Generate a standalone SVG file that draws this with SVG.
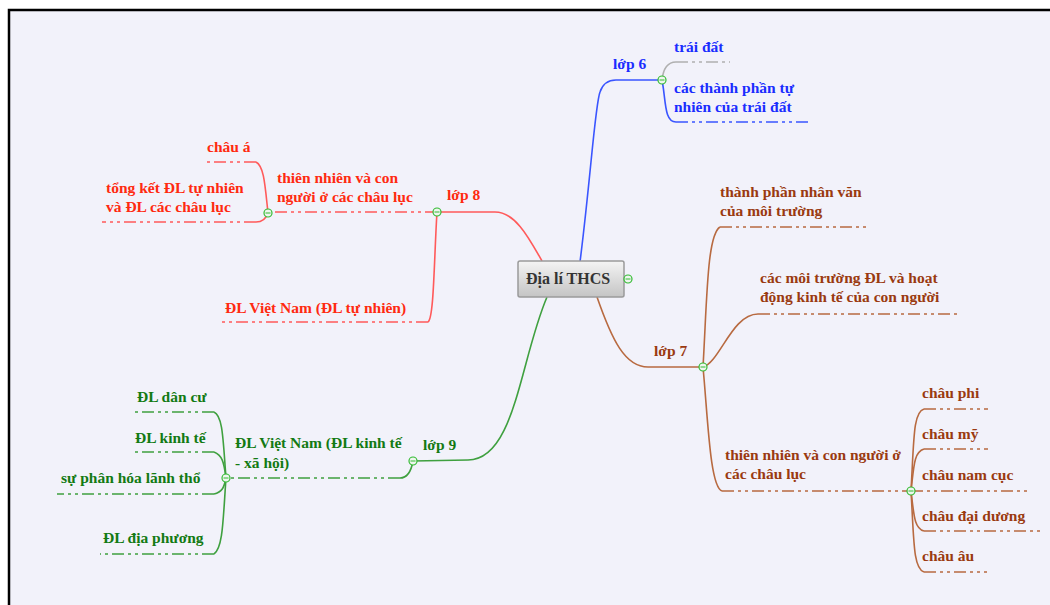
<svg xmlns="http://www.w3.org/2000/svg" width="1050" height="605" viewBox="0 0 1050 605">
<defs>
<linearGradient id="gNode" x1="0" y1="0" x2="0" y2="1">
<stop offset="0" stop-color="#f4f4f4"/>
<stop offset="1" stop-color="#c4c4c4"/>
</linearGradient>
</defs>
<style>
text{font-family:"Liberation Serif","DejaVu Serif",serif;font-weight:bold;font-size:15.5px}
.b{fill:#1a2dff}.r{fill:#ff2a10}.br{fill:#9a3a10}.g{fill:#137a13}
.c{fill:none;stroke-width:1.6}
.d{fill:none;stroke-width:1.6;stroke-dasharray:12 4 3 4 3 4}
.lb{stroke:#3a55ff}.lr{stroke:#ff5a5a}.lbr{stroke:#b86a40}.lg{stroke:#3fa03f}.lgr{stroke:#b0b0b0}
.k circle{fill:#eef5ee;stroke:#33bb33;stroke-width:1.2}
.k line{stroke:#33bb33;stroke-width:1}
</style>
<rect x="0" y="0" width="1050" height="605" fill="#ffffff"/>
<rect x="9" y="10" width="1050" height="600" fill="#f2f2fa" stroke="#000" stroke-width="2.5"/>

<g id="connectors">
<path class="c lb" d="M580,262 C591,175 595,105 600,92 Q604,80 616,80 L662,80"/>
<path class="c lr" d="M542,261 C530,240 516,212 495,212 L437,212"/>
<path class="c lbr" d="M597,297 C612,340 625,367 648,367 L703,367"/>
<path class="c lg" d="M547,297 C520,360 515,460 468,460 L413,461"/>

<path class="c lgr" d="M662,80 Q664,62 676,62"/><path class="d lgr" d="M676,62 L730,62"/>
<path class="c lb" d="M662,80 C666,100 664,122 676,122"/><path class="d lb" d="M676,122 L810,122"/>

<path class="c lr" d="M437,212 C434,260 434,318 428,322"/><path class="d lr" d="M428,322 L222,322"/>
<path class="d lr" d="M437,212 L268,212"/>
<path class="c lr" d="M268,213 C265,185 264,166 256,162"/><path class="d lr" d="M256,162 L203,162"/>
<path class="c lr" d="M268,213 Q265,222 256,222"/><path class="d lr" d="M256,222 L102,222"/>

<path class="c lbr" d="M703,367 C707,300 707,235 720,227"/><path class="d lbr" d="M720,227 L867,227"/>
<path class="c lbr" d="M703,367 C720,362 732,314 758,314"/><path class="d lbr" d="M758,314 L960,314"/>
<path class="c lbr" d="M703,367 C708,420 710,487 722,491"/><path class="d lbr" d="M722,491 L911,491"/>
<path class="c lbr" d="M911,491 C914,440 913,412 924,409"/><path class="d lbr" d="M924,409 L988,409"/>
<path class="c lbr" d="M911,491 C914,465 914,452 924,449"/><path class="d lbr" d="M924,449 L988,449"/>
<path class="d lbr" d="M911,491 L1028,491"/>
<path class="c lbr" d="M911,491 C914,515 914,528 924,531"/><path class="d lbr" d="M924,531 L1040,531"/>
<path class="c lbr" d="M911,491 C914,540 913,568 924,572"/><path class="d lbr" d="M924,572 L987,572"/>

<path class="c lg" d="M413,461 Q410,478 400,478"/><path class="d lg" d="M400,478 L227,478"/>
<path class="c lg" d="M226,478 C223,440 223,416 214,412"/><path class="d lg" d="M214,412 L133,412"/>
<path class="c lg" d="M226,478 C224,462 222,455 214,452"/><path class="d lg" d="M214,452 L132,452"/>
<path class="c lg" d="M226,478 C224,488 222,492 214,494"/><path class="d lg" d="M214,494 L57,494"/>
<path class="c lg" d="M226,478 C223,520 223,548 214,554"/><path class="d lg" d="M214,554 L100,554"/>
</g>

<g id="root">
<rect x="518" y="261" width="106" height="36" rx="2" fill="url(#gNode)" stroke="#9a9a9a" stroke-width="1.5"/>
<text x="526" y="284" fill="#333333" style="font-size:16px">Địa lí THCS</text>
</g>

<g class="k" id="toggles">
<circle cx="628" cy="279" r="4"/><line x1="625.5" y1="279" x2="630.5" y2="279"/>
<circle cx="662" cy="80" r="4"/><line x1="659.5" y1="80" x2="664.5" y2="80"/>
<circle cx="437" cy="212" r="4"/><line x1="434.5" y1="212" x2="439.5" y2="212"/>
<circle cx="268" cy="213" r="4"/><line x1="265.5" y1="213" x2="270.5" y2="213"/>
<circle cx="703" cy="367" r="4"/><line x1="700.5" y1="367" x2="705.5" y2="367"/>
<circle cx="911" cy="491" r="4"/><line x1="908.5" y1="491" x2="913.5" y2="491"/>
<circle cx="413" cy="461" r="4"/><line x1="410.5" y1="461" x2="415.5" y2="461"/>
<circle cx="226" cy="478" r="4"/><line x1="223.5" y1="478" x2="228.5" y2="478"/>
</g>

<g id="lop6"><text class="b" x="613" y="69">lớp 6</text></g>
<g id="traidat"><text class="b" x="674" y="52">trái đất</text></g>
<g id="thanhphantunhien"><text class="b" x="674" y="93">các thành phần tự</text><text class="b" x="674" y="112">nhiên của trái đất</text></g>

<g id="lop8"><text class="r" x="447" y="200">lớp 8</text></g>
<g id="thiennhien8"><text class="r" x="277" y="183">thiên nhiên và con</text><text class="r" x="277" y="202">người ở các châu lục</text></g>
<g id="chaua"><text class="r" x="207" y="152">châu á</text></g>
<g id="tongket"><text class="r" x="106" y="193">tổng kết ĐL tự nhiên</text><text class="r" x="106" y="212">và ĐL các châu lục</text></g>
<g id="dlvntn"><text class="r" x="225" y="313">ĐL Việt Nam (ĐL tự nhiên)</text></g>

<g id="lop7"><text class="br" x="654" y="356">lớp 7</text></g>
<g id="nhanvan"><text class="br" x="720" y="197">thành phần nhân văn</text><text class="br" x="720" y="216">của môi trường</text></g>
<g id="moitruong"><text class="br" x="760" y="283">các môi trường ĐL và hoạt</text><text class="br" x="760" y="302">động kinh tế của con người</text></g>
<g id="thiennhien7"><text class="br" x="725" y="460">thiên nhiên và con người ở</text><text class="br" x="725" y="479">các châu lục</text></g>
<g id="chauphi"><text class="br" x="922" y="398">châu phi</text></g>
<g id="chaumy"><text class="br" x="922" y="439">châu mỹ</text></g>
<g id="chaunamcuc"><text class="br" x="922" y="480">châu nam cục</text></g>
<g id="chaudaiduong"><text class="br" x="922" y="521">châu đại dương</text></g>
<g id="chauau"><text class="br" x="922" y="561">châu âu</text></g>

<g id="lop9"><text class="g" x="423" y="450">lớp 9</text></g>
<g id="dlvnkt"><text class="g" x="235" y="448">ĐL Việt Nam (ĐL kinh tế</text><text class="g" x="235" y="468">- xã hội)</text></g>
<g id="dandu"><text class="g" x="137" y="402">ĐL dân cư</text></g>
<g id="kinhte"><text class="g" x="135" y="443">ĐL kinh tế</text></g>
<g id="phanhoa"><text class="g" x="61" y="483">sự phân hóa lãnh thổ</text></g>
<g id="diaphuong"><text class="g" x="103" y="543">ĐL địa phương</text></g>
</svg>
